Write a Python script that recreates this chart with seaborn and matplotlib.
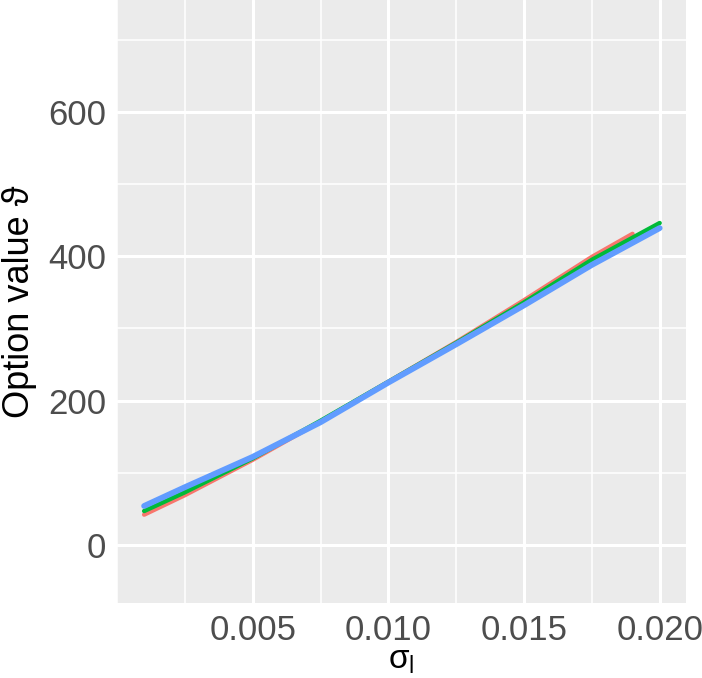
import numpy as np
import pandas as pd
import matplotlib
matplotlib.use("Agg")
import matplotlib.pyplot as plt
from matplotlib.ticker import MultipleLocator
import seaborn as sns

# values
sigma_red = [0.001, 0.0025, 0.005, 0.0075, 0.010, 0.0125, 0.015, 0.0175, 0.019]
value_red = [42, 69, 118, 171, 226, 281, 339, 399, 431]

sigma_green = [0.001, 0.0025, 0.005, 0.0075, 0.010, 0.0125, 0.015, 0.0175, 0.020]
value_green = [47, 73, 120, 172, 226, 280, 336, 395, 446]

sigma_blue = [0.001, 0.0025, 0.005, 0.0075, 0.010, 0.0125, 0.015, 0.0175, 0.020]
value_blue = [54, 80, 122, 170, 225, 278, 332, 388, 439]

series_names = ["a", "b", "c"]
series_colors = ["#F8766D", "#00BA38", "#619CFF"]
series_widths = [3.2, 3.2, 4.2]

df = pd.concat([
    pd.DataFrame({"sigma": sigma_red, "value": value_red, "series": "a"}),
    pd.DataFrame({"sigma": sigma_green, "value": value_green, "series": "b"}),
    pd.DataFrame({"sigma": sigma_blue, "value": value_blue, "series": "c"}),
], ignore_index=True)

sns.set_style("darkgrid", {"axes.facecolor": "#EBEBEB", "grid.color": "white"})
plt.rcParams["font.family"] = ["Liberation Sans", "DejaVu Sans"]
plt.rcParams["mathtext.fontset"] = "custom"
plt.rcParams["mathtext.rm"] = "Liberation Sans"
plt.rcParams["mathtext.it"] = "Liberation Sans"

fig = plt.figure(figsize=(7.02, 6.78), dpi=100)
ax = fig.add_axes([117 / 702, (678 - 602.7) / 678, (686 - 117) / 702, 602.7 / 678])

for name, color, lw in zip(series_names, series_colors, series_widths):
    sub = df[df["series"] == name]
    sns.lineplot(data=sub, x="sigma", y="value", color=color, linewidth=lw,
                 ax=ax, legend=False, estimator=None, sort=True)

ax.set_xlim(0.0, 0.02097)
ax.set_ylim(-80, 755)

ax.xaxis.set_minor_locator(MultipleLocator(0.0025))
ax.yaxis.set_minor_locator(MultipleLocator(100))
ax.set_xticks([0.005, 0.010, 0.015, 0.020])
ax.set_xticklabels(["0.005", "0.010", "0.015", "0.020"])
ax.set_yticks([0, 200, 400, 600])
ax.set_yticklabels(["0", "200", "400", "600"])

ax.grid(which="major", color="white", linewidth=2.2)
ax.grid(which="minor", color="white", linewidth=1.1)
ax.set_axisbelow(True)
for s in ax.spines.values():
    s.set_visible(False)

ax.tick_params(which="major", length=5, width=1.5, color="#333333",
               labelsize=25, labelcolor="#4D4D4D", pad=3)
ax.tick_params(which="minor", length=0)

ax.set_xlabel(r"$\sigma_l$", fontsize=24, color="black", labelpad=-1)
ax.set_ylabel("Option value ϑ", fontsize=26, color="black", labelpad=8)

fig.savefig("out.png", dpi=100)
